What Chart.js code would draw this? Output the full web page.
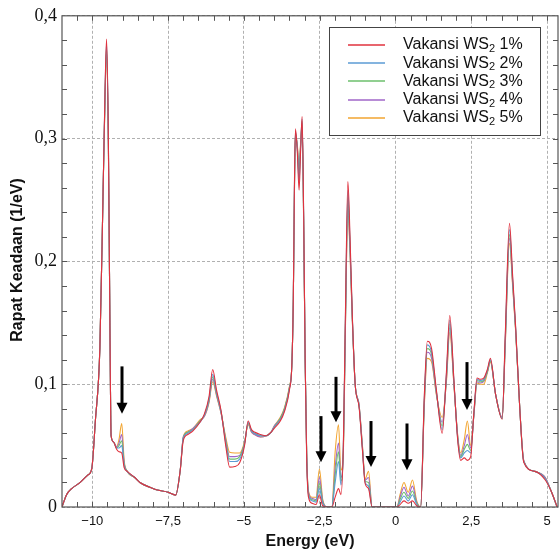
<!DOCTYPE html>
<html><head><meta charset="utf-8">
<script src="https://cdn.jsdelivr.net/npm/chart.js@4.4.1/dist/chart.umd.min.js"></script>
<style>html,body{margin:0;padding:0;background:#fff}#wrap{width:559px;height:555px}</style>
</head><body><div id="wrap"><canvas id="c" width="559" height="555"></canvas></div>
<script>
// Energy grid (eV)
const energy = [-11.0,-10.85,-10.68,-10.4,-10.15,-10.02,-9.9,-9.75,-9.65,-9.58,
-9.53,-9.47,-9.42,-9.38,-9.30,-9.20,-9.12,-9.03,-8.95,-8.85,
-8.60,-8.43,-8.10,-7.89,-7.50,-7.25,-7.10,-7.00,-6.85,-6.68,
-6.45,-6.30,-6.15,-6.03,-5.90,-5.75,-5.60,-5.47,-5.30,-5.14,
-4.98,-4.86,-4.75,-4.65,-4.45,-4.27,-4.10,-4.00,-3.80,-3.66,
-3.50,-3.42,-3.37,-3.33,-3.30,-3.24,-3.18,-3.13,-3.08,-3.03,
-2.98,-2.93,-2.87,-2.75,-2.62,-2.51,-2.40,-2.25,-2.10,-1.99,
-1.88,-1.80,-1.72,-1.65,-1.57,-1.50,-1.42,-1.33,-1.20,-1.09,
-1.00,-0.89,-0.77,0.05,0.15,0.28,0.42,0.56,0.70,0.83,
0.95,1.05,1.19,1.35,1.54,1.68,1.79,1.93,2.05,2.15,
2.27,2.37,2.48,2.58,2.69,2.80,2.91,3.03,3.13,3.30,
3.52,3.62,3.76,3.86,3.96,4.10,4.23,4.60,4.94,5.15,
5.33];

const dos1 = [0,.010,.015,.020,.026,.031,.070,.130,.250,.340,
.381,.300,.150,.058,.053,.047,.045,.044,.032,.029,
.024,.020,.016,.014,.012,.0097,.030,.054,.059,.062,
.069,.076,.090,.112,.095,.078,.050,.0325,.033,.036,
.050,.070,.063,.061,.059,.058,.061,.064,.070,.078,
.095,.115,.170,.270,.308,.290,.258,.290,.318,.240,
.120,.040,.008,.003,.002,.010,.001,0,0,.008,
.015,.010,.050,.160,.265,.220,.153,.100,.081,.046,
.019,.015,0,0,.002,.005,.003,.005,.001,0,
.090,.135,.129,.095,.060,.110,.156,.102,.055,.038,
.040,.038,.041,.075,.105,.104,.105,.112,.121,.092,
.0715,.140,.231,.190,.148,.080,.0365,.029,.022,.012,
0];

const dos2 = [0,.010,.015,.020,.026,.031,.070,.130,.250,.338,
.378,.298,.150,.058,.053,.048,.048,.050,.034,.029,
.024,.020,.016,.014,.012,.0097,.030,.056,.060,.063,
.069,.075,.088,.108,.093,.077,.052,.037,.037,.039,
.051,.069,.062,.060,.058,.058,.061,.065,.071,.079,
.096,.115,.170,.268,.306,.292,.265,.292,.316,.238,
.120,.042,.010,.005,.004,.015,.003,0,0,.020,
.037,.018,.048,.156,.258,.215,.152,.100,.082,.047,
.020,.017,0,0,.004,.009,.005,.010,.002,0,
.088,.132,.126,.094,.063,.108,.152,.101,.056,.040,
.044,.046,.044,.074,.104,.103,.104,.111,.120,.092,
.072,.137,.226,.187,.147,.080,.037,.029,.023,.012,
0];

const dos3 = [0,.010,.015,.020,.026,.031,.070,.130,.250,.336,
.375,.296,.150,.058,.053,.048,.050,.054,.035,.029,
.024,.020,.016,.014,.012,.0097,.030,.056,.061,.063,
.070,.075,.087,.106,.092,.077,.054,.039,.039,.041,
.052,.068,.062,.060,.058,.058,.061,.065,.072,.080,
.097,.115,.170,.266,.305,.293,.270,.294,.314,.236,
.120,.043,.011,.006,.005,.019,.004,0,0,.026,
.045,.021,.047,.153,.252,.212,.151,.100,.082,.048,
.021,.020,0,0,.006,.012,.007,.013,.003,0,
.086,.129,.124,.093,.066,.106,.149,.100,.057,.041,
.047,.051,.046,.074,.103,.102,.103,.110,.119,.092,
.072,.135,.222,.185,.146,.080,.037,.029,.023,.012,
0];

const dos4 = [0,.010,.015,.020,.026,.031,.070,.130,.250,.334,
.372,.294,.150,.058,.053,.049,.052,.059,.036,.029,
.024,.020,.016,.014,.012,.0097,.030,.057,.061,.064,
.070,.074,.086,.104,.091,.076,.055,.041,.041,.042,
.052,.068,.061,.059,.057,.058,.061,.066,.072,.080,
.097,.115,.170,.264,.304,.294,.275,.295,.312,.234,
.120,.044,.012,.007,.006,.024,.005,0,0,.032,
.052,.024,.046,.150,.247,.209,.150,.100,.083,.049,
.022,.024,0,0,.008,.016,.009,.017,.004,0,
.084,.126,.121,.092,.069,.104,.146,.099,.058,.042,
.050,.059,.048,.073,.102,.101,.102,.110,.119,.092,
.073,.133,.219,.183,.145,.080,.038,.029,.024,.012,
0];

const dos5 = [0,.010,.015,.020,.026,.031,.070,.130,.250,.332,
.369,.292,.150,.058,.053,.049,.055,.068,.038,.029,
.024,.020,.016,.014,.012,.0097,.030,.057,.062,.064,
.071,.074,.085,.102,.090,.076,.057,.0445,.044,.044,
.053,.067,.061,.059,.057,.058,.061,.066,.073,.081,
.098,.115,.170,.262,.303,.295,.280,.296,.310,.232,
.120,.045,.013,.008,.008,.031,.006,0,0,.045,
.067,.030,.045,.147,.242,.206,.149,.100,.083,.050,
.023,.029,0,0,.010,.020,.012,.022,.005,0,
.082,.121,.118,.091,.073,.102,.142,.098,.059,.044,
.055,.070,.050,.073,.101,.100,.100,.109,.118,.092,
.073,.131,.215,.181,.144,.080,.038,.029,.024,.012,
0];

const seriesLabels = ['Vakansi WS\u2082 1%','Vakansi WS\u2082 2%','Vakansi WS\u2082 3%','Vakansi WS\u2082 4%','Vakansi WS\u2082 5%'];
const seriesPct = ['1%','2%','3%','4%','5%'];
const seriesColors = ['#e0323e','#5b9bd5','#6cbf6c','#a066c8','#f2a531'];
const xTickValues = [-10,-7.5,-5,-2.5,0,2.5,5];
const yTickValues = [0,0.1,0.2,0.3,0.4];

// Arrow annotations (energy, top value, tip value)
const arrowX   = [-9.02,-2.47,-1.96,-0.82,0.38,2.37];
const arrowTop = [0.1145,0.074,0.106,0.070,0.068,0.118];
const arrowTip = [0.076,0.0365,0.069,0.0325,0.030,0.079];

const allSeries = [dos1,dos2,dos3,dos4,dos5];

const datasets = allSeries.map((arr,i)=>({
  label: seriesLabels[i],
  data: energy.map((e,k)=>({x:e,y:arr[k]})),
  borderColor: seriesColors[i],
  backgroundColor: seriesColors[i],
  borderWidth: 1.1,
  pointRadius: 0,
  cubicInterpolationMode: 'monotone',
  fill: false,
  order: i
}));

const fmtX = v => (v<0?'\u2212':'') + String(Math.abs(v)).replace('.',',');
const fmtY = v => v===0 ? '0' : v.toFixed(1).replace('.',',');

const framePlugin = {
  id:'frame',
  afterDatasetsDraw(chart){
    const {ctx, chartArea:a, scales:{x,y}} = chart;
    ctx.save();
    // arrows
    ctx.fillStyle='#000'; ctx.strokeStyle='#000';
    for(let i=0;i<arrowX.length;i++){
      const px=Math.round(x.getPixelForValue(arrowX[i]));
      const top=y.getPixelForValue(arrowTop[i]);
      const tip=y.getPixelForValue(arrowTip[i]);
      ctx.lineWidth=3;
      ctx.beginPath(); ctx.moveTo(px,top); ctx.lineTo(px,tip-9); ctx.stroke();
      ctx.beginPath(); ctx.moveTo(px-5.5,tip-11); ctx.lineTo(px+5.5,tip-11); ctx.lineTo(px,tip); ctx.closePath(); ctx.fill();
    }
    // frame
    ctx.strokeStyle='#555'; ctx.lineWidth=1.2;
    ctx.strokeRect(a.left, a.top, a.right-a.left, a.bottom-a.top);
    ctx.lineWidth=1;
    ctx.beginPath();
    for(let v=-10.5; v<=5.3; v+=0.5){
      const px=Math.round(x.getPixelForValue(v))+0.5;
      ctx.moveTo(px,a.bottom); ctx.lineTo(px,a.bottom-5);
      ctx.moveTo(px,a.top); ctx.lineTo(px,a.top+5);
    }
    for(let k=1;k<20;k++){
      const py=Math.round(y.getPixelForValue(k*0.02))+0.5;
      ctx.moveTo(a.left,py); ctx.lineTo(a.left+5,py);
      ctx.moveTo(a.right,py); ctx.lineTo(a.right-5,py);
    }
    ctx.stroke();
    // legend
    const bx=329.5, by=27.5, bw=211, bh=108;
    ctx.fillStyle='#fff'; ctx.fillRect(bx,by,bw,bh);
    ctx.strokeStyle='#444'; ctx.lineWidth=1; ctx.strokeRect(bx,by,bw,bh);
    for(let i=0;i<5;i++){
      const cy=45+i*18.2;
      ctx.strokeStyle=seriesColors[i]; ctx.lineWidth=1.5;
      ctx.beginPath(); ctx.moveTo(348,Math.round(cy)); ctx.lineTo(385,Math.round(cy)); ctx.stroke();
      ctx.fillStyle='#111'; ctx.textBaseline='middle'; ctx.textAlign='left';
      ctx.font='16px "Liberation Sans", Arial, sans-serif';
      let tx=403;
      ctx.fillText('Vakansi WS', tx, cy); tx+=ctx.measureText('Vakansi WS').width;
      ctx.font='11px "Liberation Sans", Arial, sans-serif';
      ctx.fillText('2', tx, cy+4); tx+=ctx.measureText('2').width;
      ctx.font='16px "Liberation Sans", Arial, sans-serif';
      ctx.fillText(' '+seriesPct[i], tx, cy);
    }
    // axis titles
    ctx.fillStyle='#111';
    ctx.font='bold 16px "Liberation Sans", Arial, sans-serif';
    ctx.textAlign='center'; ctx.textBaseline='middle';
    ctx.fillText('Energy (eV)', (a.left+a.right)/2, 542);
    ctx.translate(18, 260); ctx.rotate(-Math.PI/2);
    ctx.fillText('Rapat Keadaan (1/eV)', 0, 0);
    ctx.restore();
  }
};

new Chart(document.getElementById('c').getContext('2d'), {
  type:'line',
  data:{datasets},
  options:{
    responsive:false, animation:false,
    layout:{padding:{top:10,right:1,left:0,bottom:0}},
    plugins:{legend:{display:false}, tooltip:{enabled:false}},
    scales:{
      x:{type:'linear', min:-11, max:5.36,
        afterBuildTicks:s=>{s.ticks=xTickValues.map(v=>({value:v}));},
        afterFit:s=>{s.height=48;},
        ticks:{callback:v=>fmtX(v), font:{family:'"Liberation Sans", Arial, sans-serif', size:13}, color:'#111', padding:7, maxRotation:0, autoSkip:false},
        grid:{color:'#b0b0b0', lineWidth:1, drawTicks:false},
        border:{display:false, dash:[3,2]}
      },
      y:{type:'linear', min:0, max:0.4,
        afterBuildTicks:s=>{s.ticks=yTickValues.map(v=>({value:v}));},
        afterFit:s=>{s.width=62;},
        ticks:{callback:v=>fmtY(v), font:{family:'"Liberation Serif", "Times New Roman", serif', size:18}, color:'#111', padding:5},
        grid:{color:'#b0b0b0', lineWidth:1, drawTicks:false},
        border:{display:false, dash:[3,2]}
      }
    }
  },
  plugins:[framePlugin]
});
</script>
</body></html>
